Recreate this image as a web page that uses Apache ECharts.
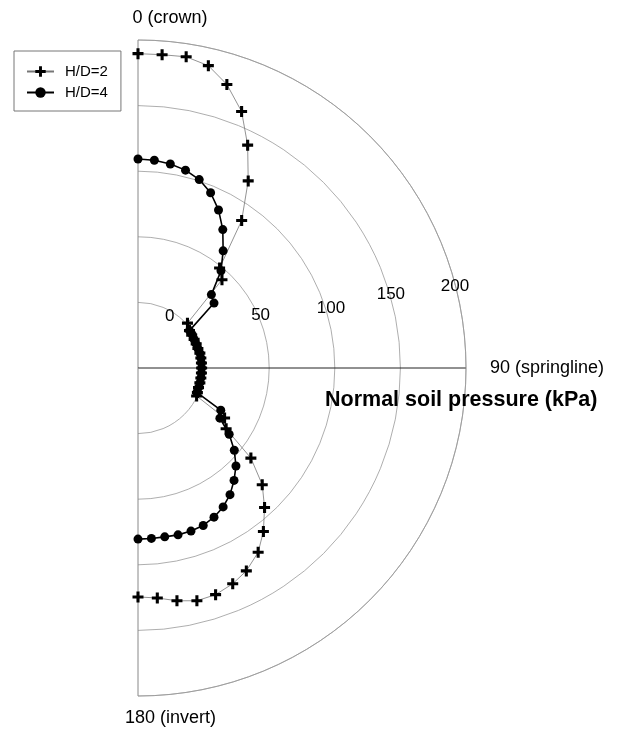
<!DOCTYPE html>
<html><head><meta charset="utf-8">
<script src="https://cdn.jsdelivr.net/npm/echarts@6/dist/echarts.min.js"></script>
<style>html,body{margin:0;padding:0;background:#fff}#c{width:623px;height:729px}</style>
</head><body><div id="c"></div>
<script>
// ---- data ----
const seriesNames = ['H/D=2', 'H/D=4'];

// H/D=2 : angle (deg, 0 = crown, clockwise) and normal soil pressure (kPa)
const anglesHD2 = [0, 4.4, 8.8, 13.1, 17.4, 22.0, 26.2, 30.5, 35.1, 39.2, 43.6, 47.8,
  54, 58.5, 63, 67.5, 72, 76.5, 81, 85.5, 90, 94.5, 99, 103.5, 108, 112.5,
  115.5, 120.0, 124.6, 128.6, 133.2, 137.8, 142.5, 146.9, 151.9, 156.3, 161.1, 165.8, 170.5, 175.2, 180];
const pressureHD2 = [189.6, 189.5, 190.0, 186.6, 176.5, 160.8, 139.3, 115.5, 87.4, 48.4, 42.8, 0.9,
  -1.5, -2, -2, -2, -2, -1.5, -1.5, -1.5, -1.5, -1.5, -1.5, -1.5, -1.5, -1,
  -0.5, 26.2, 31.6, 60.1, 79.9, 93.6, 107.0, 117.7, 125.3, 129.6, 132.6, 133.0, 129.9, 125.9, 124.5];

// H/D=4
const anglesHD4 = [0, 4.5, 9, 13.5, 18, 22.5, 27, 31.5, 36, 40.5, 45, 49.5,
  54, 58.5, 63, 67.5, 72, 76.5, 81, 85.5, 90, 94.5, 99, 103.5, 108, 112.5,
  117, 121.5, 126, 130.5, 135, 139.5, 144, 148.5, 153, 157.5, 162, 166.5, 171, 175.5, 180];
const pressureHD4 = [109.3, 108.8, 107.4, 105.1, 101.0, 94.6, 85.2, 73.7, 60.4, 47.4, 29.1, 26.2,
  -1.5, -1.5, -2, -2, -2, -1.5, -1.5, -1.5, -1.5, -1.5, -1.5, -1.5, -1.5, -1.5,
  20.8, 23.2, 35.9, 46.5, 55.6, 62.7, 69.3, 74.2, 77.6, 79.9, 80.7, 80.8, 80.3, 80.3, 80.4];

// axes
const radiusTicks = [0, 50, 100, 150, 200];
const angleTicks = [0, 90, 180];
const angleTickLabels = ['0 (crown)', '90 (springline)', '180 (invert)'];
const axisTitle = 'Normal soil pressure (kPa)';

// ---- layout (not data) ----
const tickLabelLayout = [[-3.8, 31.5], [1.6, 66.9], [4, 72.7], [0.7, 73.8], [-0.5, 75.5]]; // [radial offset, angle]
const FONT = "'Liberation Sans', Arial, sans-serif";
const crossPath = 'path://M3.6,0H6.4V3.6H10V6.4H6.4V10H3.6V6.4H0V3.6H3.6Z';

const chart = echarts.init(document.getElementById('c'), null, {renderer: 'canvas'});

const tickLabelData = radiusTicks.map((t, i) => ({
  name: String(t),
  value: [t + tickLabelLayout[i][0], tickLabelLayout[i][1]]
}));

chart.setOption({
  animation: false,
  backgroundColor: '#fff',
  textStyle: {fontFamily: FONT, color: '#000'},
  title: {
    text: axisTitle, left: 325, top: 389, padding: 0,
    textStyle: {fontFamily: FONT, fontSize: 21.5, fontWeight: 'bold', color: '#000'}
  },
  legend: {
    data: seriesNames, orient: 'vertical', left: 14, top: 51,
    borderColor: '#777', borderWidth: 1, borderRadius: 0,
    padding: [13, 13, 11, 12], itemWidth: 27, itemHeight: 13, itemGap: 6,
    textStyle: {fontFamily: FONT, fontSize: 15, color: '#000', padding: [0, 0, 0, 6]}
  },
  polar: {center: [138, 368], radius: 328},
  angleAxis: {
    type: 'value', min: 0, max: 180, interval: 90,
    startAngle: 90, endAngle: -90, clockwise: true,
    axisLine: {show: true, lineStyle: {color: '#999', width: 0.8}},
    axisTick: {show: false},
    splitLine: {show: true, lineStyle: {color: ['#888', '#222', '#888'], width: 1}},
    axisLabel: {
      show: true, margin: 13, fontSize: 18, color: '#000', fontFamily: FONT,
      formatter: function (v) {
        const i = angleTicks.indexOf(v);
        if (i < 0) return '';
        return '{p' + i + '| }{t|' + angleTickLabels[i] + '}';
      },
      rich: {
        t: {fontSize: 18, color: '#000', fontFamily: FONT},
        p0: {width: 64, fontSize: 18},
        p1: {width: 11, fontSize: 18},
        p2: {width: 65, fontSize: 18}
      }
    }
  },
  radiusAxis: {
    type: 'value', min: -50, max: 200, interval: 50,
    axisLine: {show: false}, axisTick: {show: false}, axisLabel: {show: false},
    splitLine: {show: true, lineStyle: {color: '#999', width: 0.8}}
  },
  series: [
    {
      name: seriesNames[0], type: 'line', coordinateSystem: 'polar',
      data: pressureHD2.map((v, i) => [v, anglesHD2[i]]),
      symbol: crossPath, symbolSize: 11, showAllSymbol: true,
      itemStyle: {color: '#000'},
      lineStyle: {color: '#777', width: 0.8},
      z: 3
    },
    {
      name: seriesNames[1], type: 'line', coordinateSystem: 'polar',
      data: pressureHD4.map((v, i) => [v, anglesHD4[i]]),
      symbol: 'circle', symbolSize: 9, showAllSymbol: true,
      itemStyle: {color: '#000'},
      lineStyle: {color: '#000', width: 1.6},
      z: 4
    },
    {
      name: 'tickLabels', type: 'scatter', coordinateSystem: 'polar',
      data: tickLabelData, symbolSize: 0, silent: true,
      itemStyle: {color: '#000', opacity: 1},
      label: {show: true, position: 'inside', formatter: '{b}', fontSize: 17, color: '#000', opacity: 1,
        fontFamily: FONT, textBorderWidth: 0, textBorderColor: 'transparent'},
      z: 5
    }
  ]
});
</script></body></html>
